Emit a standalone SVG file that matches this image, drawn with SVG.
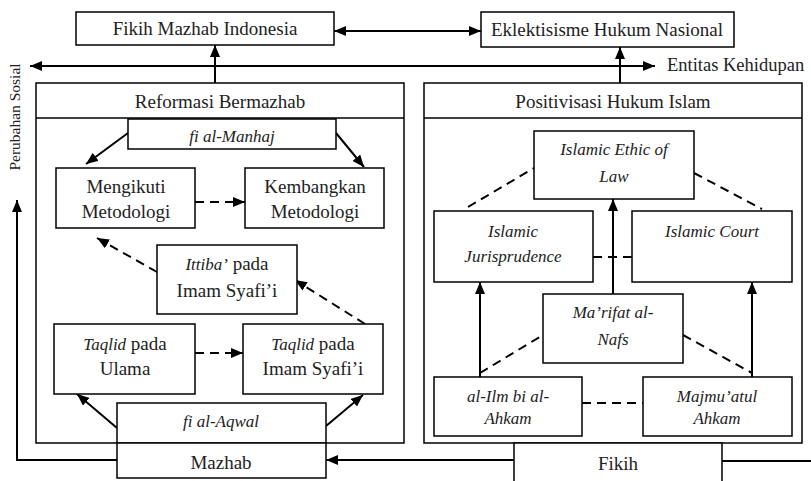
<svg xmlns="http://www.w3.org/2000/svg" width="811" height="481" viewBox="0 0 811 481">
<defs>
<marker id="ah" viewBox="0 0 12 10" refX="12" refY="5" markerWidth="12" markerHeight="10" markerUnits="userSpaceOnUse" orient="auto-start-reverse">
<path d="M0,0 L12,5 L0,10 z" fill="#000"/>
</marker>
<style>
.box{fill:#fff;stroke:#000;stroke-width:1.5}
.con{stroke:#000;stroke-width:2;fill:none}
.dash{stroke-dasharray:9,6}
.it{font-style:italic;font-size:17px}
</style>
</defs>
<rect x="0" y="0" width="811" height="481" fill="#fff"/>
<g font-family="Liberation Serif, Times New Roman, serif" font-size="19" fill="#222" text-anchor="middle">
<g id="panel-reformasi">
<rect class="box" x="36" y="83" width="368" height="360"/>
<line x1="36" y1="118" x2="404" y2="118" stroke="#000" stroke-width="1.5"/>
<text x="220" y="108">Reformasi Bermazhab</text>
</g>
<g id="panel-positivisasi">
<rect class="box" x="424" y="83" width="378" height="360"/>
<line x1="424" y1="118" x2="802" y2="118" stroke="#000" stroke-width="1.5"/>
<text x="613" y="108">Positivisasi Hukum Islam</text>
</g>

<g id="connectors" class="con">
<line marker-start="url(#ah)" marker-end="url(#ah)" x1="334" y1="31" x2="481" y2="31"/>
<line marker-start="url(#ah)" marker-end="url(#ah)" x1="30" y1="66" x2="655" y2="66"/>
<line marker-end="url(#ah)" x1="215" y1="83" x2="215" y2="45"/>
<line marker-end="url(#ah)" x1="620" y1="83" x2="620" y2="47"/>
<line marker-end="url(#ah)" x1="128" y1="133" x2="86" y2="164"/>
<line marker-end="url(#ah)" x1="336" y1="133" x2="364" y2="167"/>
<g class="dash">
<line marker-end="url(#ah)" x1="195" y1="202" x2="245" y2="202"/>
<line marker-end="url(#ah)" x1="157" y1="272" x2="97" y2="238"/>
<line marker-end="url(#ah)" x1="365" y1="324" x2="295" y2="280"/>
<line marker-end="url(#ah)" x1="195" y1="353" x2="243" y2="353"/>
<line x1="468" y1="207" x2="534" y2="168"/>
<line x1="694" y1="173" x2="762" y2="209"/>
<line x1="593" y1="257" x2="632" y2="257"/>
<line x1="480" y1="373" x2="543" y2="335"/>
<line x1="683" y1="335" x2="752" y2="373"/>
<line x1="582" y1="403" x2="643" y2="403"/>
</g>
<line marker-end="url(#ah)" x1="117" y1="428" x2="77" y2="394"/>
<line marker-end="url(#ah)" x1="326" y1="426" x2="363" y2="395"/>
<polyline marker-end="url(#ah)" points="117,460 17,460 17,200"/>
<line marker-end="url(#ah)" x1="514" y1="460" x2="326" y2="460"/>
<line x1="722" y1="461" x2="811" y2="461"/>
<line marker-end="url(#ah)" x1="613" y1="294" x2="613" y2="199"/>
<line marker-end="url(#ah)" x1="480" y1="377" x2="480" y2="282"/>
<line marker-end="url(#ah)" x1="752" y1="377" x2="752" y2="282"/>
</g>

<g id="fikih-mazhab-indonesia"><rect class="box" x="76" y="12" width="258" height="33"/><text x="205" y="35">Fikih Mazhab Indonesia</text></g>
<g id="eklektisisme"><rect class="box" x="481" y="12" width="253" height="35"/><text x="607" y="36">Eklektisisme Hukum Nasional</text></g>
<g id="entitas"><text x="667" y="71" text-anchor="start" font-size="18.5">Entitas Kehidupan</text></g>
<g id="perubahan-sosial"><text transform="translate(20,117) rotate(-90)" font-size="15.5">Perubahan Sosial</text></g>

<g id="fi-al-manhaj"><rect class="box" x="128" y="119" width="208" height="30"/><text class="it" x="232" y="142">fi al-Manhaj</text></g>
<g id="mengikuti"><rect class="box" x="56" y="168" width="139" height="60"/><text x="126" y="193">Mengikuti</text><text x="126" y="218">Metodologi</text></g>
<g id="kembangkan"><rect class="box" x="245" y="168" width="139" height="60"/><text x="315" y="193">Kembangkan</text><text x="315" y="218">Metodologi</text></g>
<g id="ittiba"><rect class="box" x="157" y="245" width="140" height="69"/><text x="227" y="270"><tspan class="it">Ittiba’</tspan> pada</text><text x="227" y="297">Imam Syafi’i</text></g>
<g id="taqlid-ulama"><rect class="box" x="54" y="324" width="141" height="70"/><text x="125" y="350"><tspan class="it">Taqlid</tspan> pada</text><text x="125" y="375">Ulama</text></g>
<g id="taqlid-imam"><rect class="box" x="243" y="324" width="140" height="70"/><text x="313" y="350"><tspan class="it">Taqlid</tspan> pada</text><text x="313" y="375">Imam Syafi’i</text></g>
<g id="fi-al-aqwal"><rect class="box" x="117" y="403" width="209" height="40"/><text class="it" x="221" y="427">fi al-Aqwal</text></g>
<g id="mazhab"><rect class="box" x="117" y="443" width="209" height="35"/><text x="221" y="469">Mazhab</text></g>

<g id="islamic-ethic" class="it"><rect class="box" x="534" y="131" width="160" height="68"/><text x="614" y="155">Islamic Ethic of</text><text x="614" y="182">Law</text></g>
<g id="islamic-jurisprudence" class="it"><rect class="box" x="434" y="211" width="159" height="71"/><text x="513" y="237">Islamic</text><text x="513" y="262">Jurisprudence</text></g>
<g id="islamic-court" class="it"><rect class="box" x="632" y="211" width="160" height="71"/><text x="712" y="237">Islamic Court</text></g>
<g id="marifat" class="it"><rect class="box" x="543" y="294" width="140" height="69"/><text x="613" y="318">Ma’rifat al-</text><text x="613" y="345">Nafs</text></g>
<g id="al-ilm" class="it"><rect class="box" x="434" y="377" width="148" height="59"/><text x="508" y="402">al-Ilm bi al-</text><text x="508" y="424">Ahkam</text></g>
<g id="majmuatul" class="it"><rect class="box" x="643" y="377" width="149" height="59"/><text x="717" y="402">Majmu’atul</text><text x="717" y="424">Ahkam</text></g>
<g id="fikih"><path class="box" d="M514,481 V443 H722 V481"/><text x="618" y="470">Fikih</text></g>
</g>
</svg>
